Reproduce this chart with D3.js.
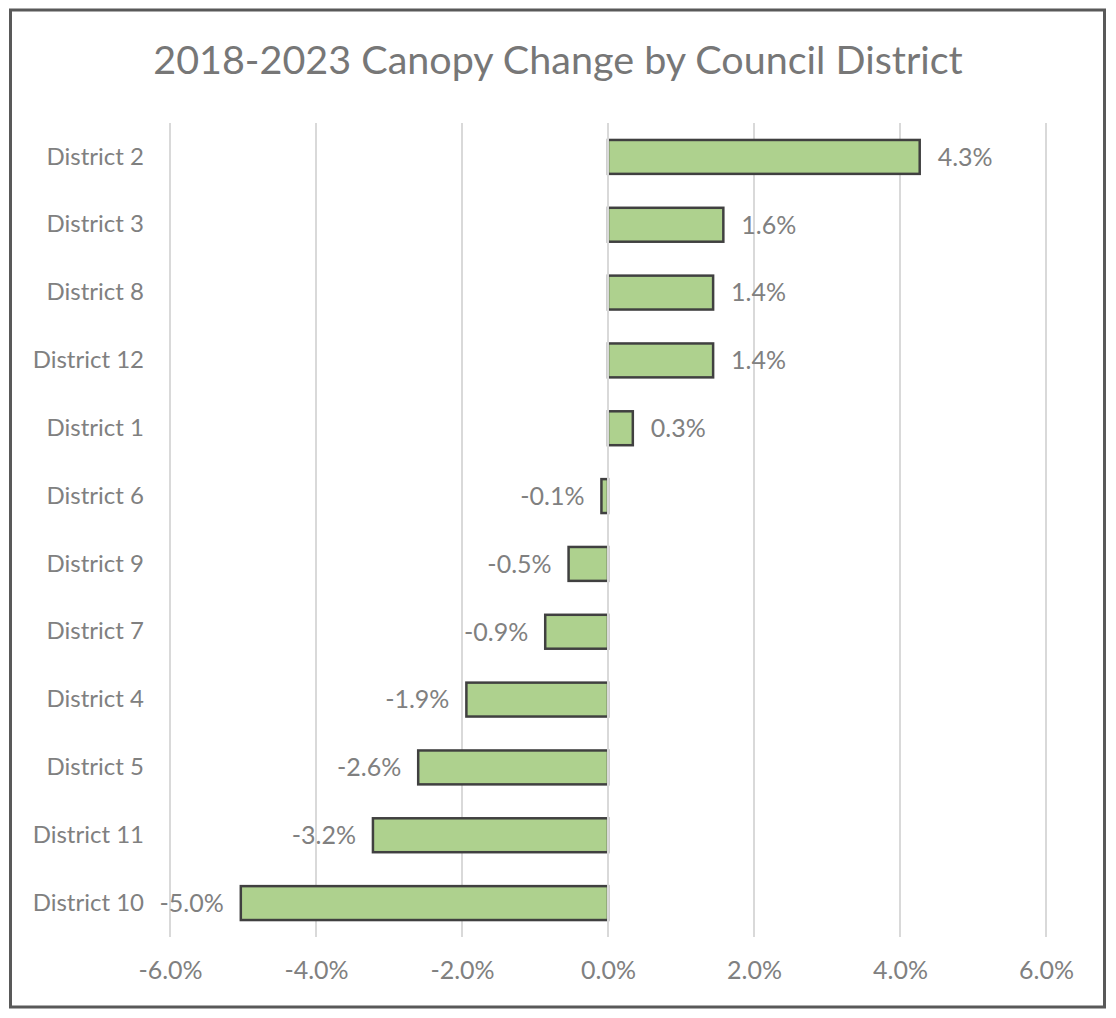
<!DOCTYPE html>
<html>
<head>
<meta charset="utf-8">
<script src="https://cdn.jsdelivr.net/npm/d3@7"></script>
<style>
  body { margin: 0; background: #fff; }
  svg text { font-family: Lato, "Liberation Sans", sans-serif; }
</style>
</head>
<body>
<div id="chart"></div>
<script>
const districts = ["District 2", "District 3", "District 8", "District 12", "District 1", "District 6",
                   "District 9", "District 7", "District 4", "District 5", "District 11", "District 10"];
const change = [4.27, 1.58, 1.44, 1.44, 0.34, -0.09, -0.54, -0.86, -1.94, -2.60, -3.22, -5.03];
const ticks = [-6, -4, -2, 0, 2, 4, 6];

const width = 1116;
const height = 1018;
const plot = { left: 170, right: 1046, top: 123, bottom: 937 };

const data = districts.map((d, i) => ({ name: d, value: change[i] }));

// Excel-style percent label with a plain hyphen for negatives
const pct = d => d3.format(".1f")(d).replace("\u2212", "-") + "%";

const svg = d3.select("#chart")
  .append("svg")
  .attr("width", width)
  .attr("height", height);

// Chart frame
svg.append("rect")
  .attr("x", 10.5).attr("y", 10)
  .attr("width", 1094).attr("height", 997)
  .attr("fill", "#fff")
  .attr("stroke", "#595959")
  .attr("stroke-width", 3);

const x = d3.scaleLinear()
  .domain([-6, 6])
  .range([plot.left, plot.right]);

const y = d3.scaleBand()
  .domain(districts)
  .range([plot.top, plot.bottom])
  .paddingInner(0.5)
  .paddingOuter(0.25);

// Gridlines (except zero, drawn over the bars)
svg.append("g")
  .selectAll("line")
  .data(ticks.filter(t => t !== 0))
  .join("line")
  .attr("x1", d => x(d)).attr("x2", d => x(d))
  .attr("y1", plot.top).attr("y2", plot.bottom)
  .attr("stroke", "#d9d9d9")
  .attr("stroke-width", 2);

// Bars
svg.append("g")
  .selectAll("rect")
  .data(data)
  .join("rect")
  .attr("x", d => x(Math.min(0, d.value)))
  .attr("y", d => y(d.name))
  .attr("width", d => Math.abs(x(d.value) - x(0)))
  .attr("height", y.bandwidth())
  .attr("fill", "#aed18e")
  .attr("stroke", "#404040")
  .attr("stroke-width", 2.5);

// Zero line
svg.append("line")
  .attr("x1", x(0)).attr("x2", x(0))
  .attr("y1", plot.top).attr("y2", plot.bottom)
  .attr("stroke", "#d9d9d9")
  .attr("stroke-width", 2);

// Data labels
svg.append("g")
  .selectAll("text")
  .data(data)
  .join("text")
  .attr("x", d => d.value >= 0 ? x(d.value) + 18 : x(d.value) - 17)
  .attr("y", d => y(d.name) + y.bandwidth() / 2)
  .attr("dy", "0.35em")
  .attr("text-anchor", d => d.value >= 0 ? "start" : "end")
  .attr("fill", "#808080")
  .style("font-size", "25px")
  .text(d => pct(d.value));

// Category axis
const yAxis = svg.append("g")
  .attr("transform", `translate(${plot.left - 26}, 0)`)
  .call(d3.axisLeft(y).tickSize(0).tickPadding(0));
yAxis.select(".domain").remove();
yAxis.selectAll("text")
  .attr("fill", "#808080")
  .style("font-size", "24px")
  .style("font-family", "Lato, sans-serif");

// Value axis
const xAxis = svg.append("g")
  .attr("transform", `translate(0, ${plot.bottom})`)
  .call(d3.axisBottom(x).tickValues(ticks).tickSize(0).tickPadding(24)
    .tickFormat(pct));
xAxis.select(".domain").remove();
xAxis.selectAll("text")
  .attr("fill", "#808080")
  .style("font-size", "25px")
  .style("font-family", "Lato, sans-serif");

// Title
svg.append("text")
  .attr("x", 558)
  .attr("y", 74)
  .attr("text-anchor", "middle")
  .attr("fill", "#777777")
  .style("font-size", "39.5px")
  .text("2018-2023 Canopy Change by Council District");
</script>
</body>
</html>
